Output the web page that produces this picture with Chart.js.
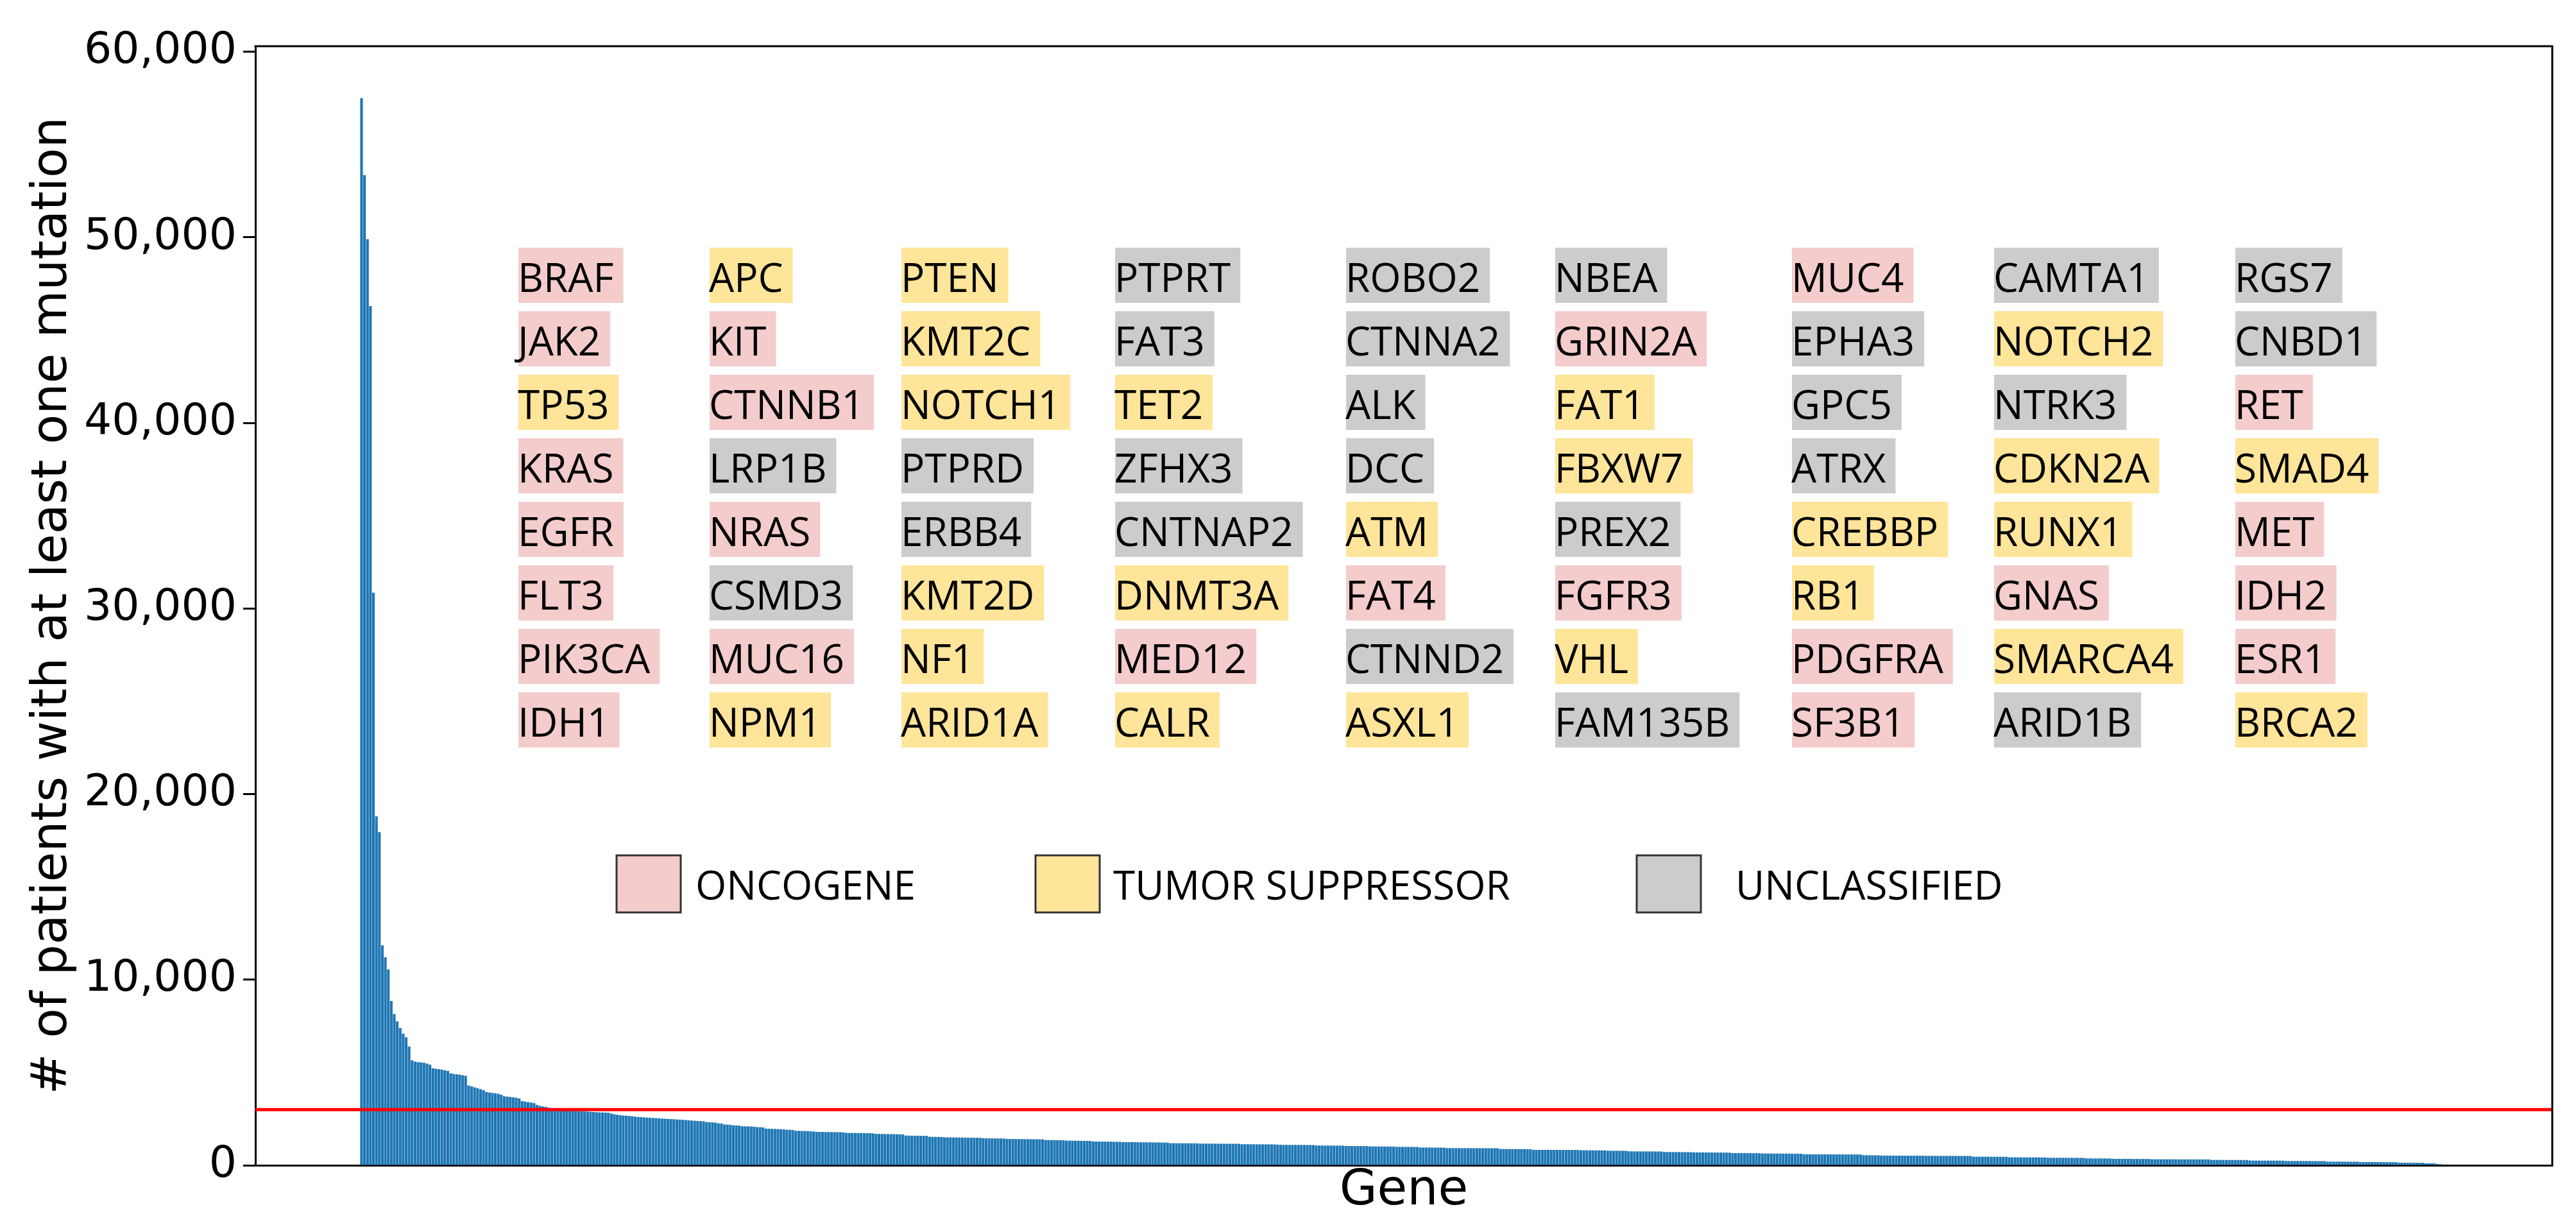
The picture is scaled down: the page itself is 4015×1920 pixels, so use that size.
<!DOCTYPE html>
<html>
<head>
<meta charset="utf-8">
<title>Patients with at least one mutation per gene</title>
<script src="https://cdn.jsdelivr.net/npm/chart.js@4.4.0/dist/chart.umd.min.js"></script>
<style>
  html, body { margin: 0; padding: 0; background: #fff; }
  #chart { display: block; }
</style>
</head>
<body>
<canvas id="chart" width="4015" height="1920"></canvas>
<script>
// patients with >= 1 mutation, one bar per gene, sorted by rank
const geneCounts = [
  57500, 53350, 49900, 46300, 30850, 18800, 17950, 11850, 11200, 10550, 8850, 8150, 7750, 7400, 7100, 6900, 6400, 5650,
  5580, 5560, 5540, 5520, 5480, 5420, 5220, 5200, 5180, 5150, 5120, 5080, 4950, 4920, 4900, 4880, 4850, 4820,
  4300, 4250, 4200, 4150, 4100, 4050, 3950, 3920, 3900, 3880, 3850, 3800, 3720, 3700, 3680, 3660, 3640, 3600,
  3460, 3430, 3400, 3380, 3350, 3250, 3200, 3170, 3150, 3100,
  3020, 3000, 2990, 2980, 2970, 2960, 2950, 2940, 2930, 2920, 2910, 2900, 2890,
  2880, 2870, 2860, 2850, 2845, 2840, 2830, 2780, 2750, 2720, 2700, 2680, 2670, 2660, 2640, 2620, 2600, 2590, 2580, 2570,
  2560, 2550, 2540, 2530, 2520, 2510, 2500, 2490, 2480, 2470, 2460, 2450, 2440, 2420, 2410, 2400, 2390, 2380, 2370,
  2330, 2320, 2310, 2300, 2260, 2250, 2200, 2190, 2180, 2150, 2145, 2140, 2100, 2100, 2095, 2090, 2080, 2055, 2050, 2040,
  1975, 1970, 1965, 1960, 1950, 1940, 1930, 1915, 1910, 1900, 1860, 1855, 1850, 1845, 1840, 1830, 1820,
  1800, 1798, 1795, 1792, 1790, 1788, 1785, 1782, 1780, 1775, 1745, 1742, 1740, 1738, 1735, 1732, 1730, 1728, 1725, 1720,
  1690, 1688, 1685, 1682, 1680, 1678, 1675, 1672, 1670, 1665, 1600, 1598, 1595, 1592, 1590, 1588, 1585, 1580, 1535, 1533, 1530, 1528, 1525,
  1505, 1503, 1500, 1498, 1496, 1494, 1492, 1490, 1488, 1486, 1484, 1482, 1480, 1455, 1453, 1450, 1448, 1446, 1444, 1442, 1440,
  1420, 1418, 1416, 1414, 1412, 1410, 1408, 1406, 1404, 1402, 1400, 1398, 1396, 1362, 1360, 1358, 1356, 1354, 1352, 1350,
  1328, 1326, 1324, 1322, 1320, 1318, 1316, 1314, 1312, 1282, 1280, 1278, 1276, 1274, 1272, 1270, 1268, 1266, 1264,
  1248, 1247, 1246, 1245, 1244, 1242, 1240, 1238, 1236, 1234, 1232, 1230, 1228, 1226, 1224, 1222,
  1190, 1189, 1188, 1187, 1186, 1185, 1184, 1183, 1182, 1180, 1168, 1167, 1166, 1165, 1164, 1163, 1162, 1161, 1160, 1159, 1158, 1157, 1156, 1155,
  1135, 1134, 1133, 1132, 1131, 1130, 1129, 1128, 1127, 1126, 1125, 1124, 1110, 1108,
  1100, 1099, 1098, 1097, 1096, 1095, 1094, 1093, 1092, 1091, 1090, 1065, 1064, 1063, 1062, 1061, 1060, 1059, 1058, 1057, 1056,
  1040, 1039, 1038, 1037, 1036, 1035, 1034, 1033, 1016, 1015, 1014, 1013, 1012, 1011, 1010, 1009, 1008,
  993, 992, 991, 990, 989, 988, 987, 986, 958, 957, 956, 955, 954, 953, 952, 951, 950,
  926, 925, 925, 924, 924, 923, 923, 922, 922, 921, 921, 920, 920, 919, 919, 918, 918, 917,
  878, 877, 876, 875, 874, 873, 872, 871, 870, 869, 868, 832, 831, 831, 830, 830, 829, 829, 828, 828, 827, 827, 826, 826, 825, 825, 824,
  808, 807, 806, 805, 804, 803, 802, 801, 800, 785, 784, 783, 782, 781, 780, 779, 752, 751, 750, 749, 748, 747, 746, 745, 744, 743, 742, 741,
  716, 715, 714, 713, 712, 711, 710, 709, 708, 707, 693, 692, 691, 690, 689, 688, 687, 686, 685, 684, 683, 682, 681,
  658, 657, 656, 655, 654, 653, 652, 651, 650, 649, 635, 634, 633, 632, 631, 630, 629, 628, 627, 626, 625, 624, 623, 622,
  590, 590, 589, 589, 588, 588, 587, 587, 586, 586, 585, 585, 584, 584, 583, 583, 582, 582, 581, 581, 543, 542, 541, 540, 539, 538,
  522, 521, 520, 520, 519, 519, 518, 518, 517, 517, 516, 516, 515, 515, 514,
  508, 508, 507, 507, 506, 506, 505, 505, 504, 504, 503, 503, 502, 502, 501, 501, 462, 461, 461, 460, 460, 459, 459, 458, 458, 457, 457, 456,
  428, 427, 427, 426, 426, 425, 425, 424, 424, 423, 423, 422, 422, 405, 404, 404, 403, 403, 402, 402, 401, 401, 400, 400, 399, 399,
  370, 369, 369, 368, 368, 367, 367, 366, 366, 347, 346, 346, 345, 345, 344, 344, 343, 343, 342, 342, 341, 341,
  324, 324, 323, 323, 322, 322, 321, 321, 320, 320, 319, 319, 318, 318, 317, 317, 316, 316, 315, 315, 289, 288, 288, 287, 287, 286, 286, 285, 285, 284, 284, 283, 283,
  254, 253, 253, 252, 252, 251, 251, 250, 250, 249, 249, 248, 231, 230, 230, 229, 229, 228, 228, 227, 227, 226, 226, 225, 225, 224,
  197, 196, 196, 195, 195, 194, 194, 193, 193, 192, 192, 174, 173, 173, 172, 172, 171, 171, 170, 170, 169, 169, 168, 168,
  139, 138, 138, 137, 137, 136, 136, 135, 135, 105, 104, 103, 102, 70, 60,
];

const thresholdValue = 3000;
const yTicks = [0, 10000, 20000, 30000, 40000, 50000, 60000];

// top genes, row by row as they sit in the grid (O = oncogene, T = tumor suppressor, U = unclassified)
const geneNames = [
  'BRAF', 'APC', 'PTEN', 'PTPRT', 'ROBO2', 'NBEA', 'MUC4', 'CAMTA1', 'RGS7',
  'JAK2', 'KIT', 'KMT2C', 'FAT3', 'CTNNA2', 'GRIN2A', 'EPHA3', 'NOTCH2', 'CNBD1',
  'TP53', 'CTNNB1', 'NOTCH1', 'TET2', 'ALK', 'FAT1', 'GPC5', 'NTRK3', 'RET',
  'KRAS', 'LRP1B', 'PTPRD', 'ZFHX3', 'DCC', 'FBXW7', 'ATRX', 'CDKN2A', 'SMAD4',
  'EGFR', 'NRAS', 'ERBB4', 'CNTNAP2', 'ATM', 'PREX2', 'CREBBP', 'RUNX1', 'MET',
  'FLT3', 'CSMD3', 'KMT2D', 'DNMT3A', 'FAT4', 'FGFR3', 'RB1', 'GNAS', 'IDH2',
  'PIK3CA', 'MUC16', 'NF1', 'MED12', 'CTNND2', 'VHL', 'PDGFRA', 'SMARCA4', 'ESR1',
  'IDH1', 'NPM1', 'ARID1A', 'CALR', 'ASXL1', 'FAM135B', 'SF3B1', 'ARID1B', 'BRCA2',
];
const geneClasses = [
  'O', 'T', 'T', 'U', 'U', 'U', 'O', 'U', 'U',
  'O', 'O', 'T', 'U', 'U', 'O', 'U', 'T', 'U',
  'T', 'O', 'T', 'T', 'U', 'T', 'U', 'U', 'O',
  'O', 'U', 'U', 'U', 'U', 'T', 'U', 'T', 'T',
  'O', 'O', 'U', 'U', 'T', 'U', 'T', 'T', 'O',
  'O', 'U', 'T', 'T', 'O', 'O', 'T', 'O', 'O',
  'O', 'O', 'T', 'O', 'U', 'T', 'O', 'T', 'O',
  'O', 'T', 'T', 'T', 'T', 'U', 'O', 'U', 'T',
];
const classKeys = ['O', 'T', 'U'];
const classNames = ['ONCOGENE', 'TUMOR SUPPRESSOR', 'UNCLASSIFIED'];

const classFill = { O: '#f4cccc', T: '#ffe599', U: '#cccccc' };
const grid = {
  cols: 9,
  colX: [808, 1106, 1405, 1738, 2098, 2424, 2793, 3108, 3484],
  rowY: [429, 528, 627, 726, 825, 924, 1023, 1122],
};
const legendPos = { boxX: [961, 1614, 2551], textX: [1084, 1735, 2705], top: 1333 };

const thresholdLine = {
  id: 'thresholdLine',
  afterDatasetsDraw(chart) {
    const { ctx, chartArea, scales } = chart;
    const y = scales.y.getPixelForValue(thresholdValue);
    ctx.save();
    ctx.strokeStyle = '#ff0000';
    ctx.lineWidth = 5;
    ctx.beginPath();
    ctx.moveTo(chartArea.left, y);
    ctx.lineTo(chartArea.right, y);
    ctx.stroke();
    ctx.restore();
  },
};

const frame = {
  id: 'frame',
  afterDraw(chart) {
    const { ctx, chartArea } = chart;
    ctx.save();
    ctx.strokeStyle = '#000';
    ctx.lineWidth = 3;
    ctx.beginPath();
    ctx.moveTo(chartArea.left - 1.5, chartArea.top);
    ctx.lineTo(chartArea.right, chartArea.top);
    ctx.lineTo(chartArea.right, chartArea.bottom + 1.5);
    ctx.stroke();
    ctx.restore();
  },
};

const geneTags = {
  id: 'geneTags',
  afterDraw(chart) {
    const { ctx } = chart;
    ctx.save();
    ctx.font = '62px "Open Sans"';
    ctx.textBaseline = 'alphabetic';
    geneNames.forEach((name, i) => {
      const x = grid.colX[i % grid.cols];
      const y = grid.rowY[Math.floor(i / grid.cols)];
      const w = ctx.measureText(name).width;
      ctx.fillStyle = classFill[geneClasses[i]];
      ctx.fillRect(x, y - 43, w + 14, 86);
      ctx.fillStyle = '#000';
      ctx.fillText(name, x - 1, y + 26);
    });

    classKeys.forEach((key, i) => {
      const bx = legendPos.boxX[i];
      ctx.fillStyle = classFill[key];
      ctx.fillRect(bx, legendPos.top, 100, 89);
      ctx.strokeStyle = '#333';
      ctx.lineWidth = 3;
      ctx.strokeRect(bx, legendPos.top, 100, 89);
      ctx.fillStyle = '#000';
      ctx.fillText(classNames[i], legendPos.textX[i], legendPos.top + 69);
    });
    ctx.restore();
  },
};

Chart.defaults.font.family = '"DejaVu Sans", sans-serif';
Chart.defaults.color = '#000';

new Chart(document.getElementById('chart'), {
  type: 'bar',
  data: {
    datasets: [{
      data: geneCounts.map((v, i) => ({ x: i, y: v })),
      backgroundColor: '#1f77b4',
      borderWidth: 0,
      barPercentage: 0.9,
      categoryPercentage: 1,
    }],
  },
  options: {
    responsive: false,
    animation: false,
    devicePixelRatio: 1,
    layout: { padding: { left: 0, top: 72, right: 37, bottom: 0 } },
    plugins: { legend: { display: false }, tooltip: { enabled: false } },
    scales: {
      x: {
        type: 'linear',
        offset: false,
        min: -35.7,
        max: geneCounts.length + 36.6,
        grid: { display: false },
        ticks: { display: false },
        border: { display: true, color: '#000', width: 3 },
        title: { display: true, text: 'Gene', font: { size: 76 }, padding: { top: 0, bottom: 17 } },
        afterFit: (axis) => { axis.height = 104; },
      },
      y: {
        min: 0,
        max: 60300,
        afterBuildTicks: (axis) => { axis.ticks = yTicks.map((v) => ({ value: v })); },
        ticks: {
          font: { size: 68 },
          padding: 10,
          callback: (v) => v.toLocaleString('en-US'),
        },
        grid: { drawOnChartArea: false, drawTicks: true, tickLength: 19, tickWidth: 3, tickColor: '#000' },
        border: { display: true, color: '#000', width: 3 },
        title: {
          display: true,
          text: '# of patients with at least one mutation',
          font: { size: 76 },
          padding: { top: 38, bottom: 0 },
        },
        afterFit: (axis) => { axis.width = 398; },
      },
    },
  },
  plugins: [thresholdLine, frame, geneTags],
});
</script>
</body>
</html>
